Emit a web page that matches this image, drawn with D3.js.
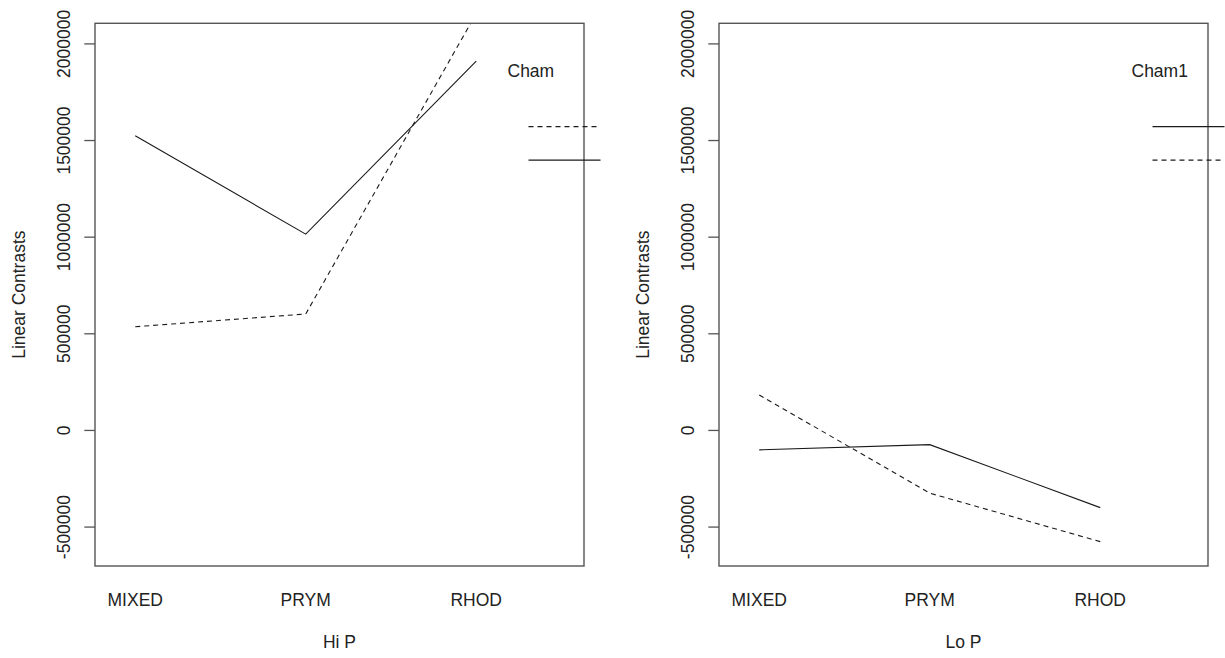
<!DOCTYPE html>
<html>
<head>
<meta charset="utf-8">
<script src="https://cdn.jsdelivr.net/npm/d3@7"></script>
<style>
  html, body { margin: 0; padding: 0; background: #fff; }
  svg { display: block; }
  text { font-family: "Liberation Sans", Arial, sans-serif; fill: #222; }
</style>
</head>
<body>
<svg id="chart" width="1225" height="658"></svg>
<script>
// Interaction plots of linear contrasts, one panel per P level.
const categories = ["MIXED", "PRYM", "RHOD"];
const yTicks = [-500000, 0, 500000, 1000000, 1500000, 2000000];
const yLimits = [-600000, 2000000];

// Trace series (line types follow R's interaction.plot: first level dashed, second solid)
const hiP_dashed = [534000, 600000, 2155000];
const hiP_solid  = [1522000, 1013000, 1908000];
const loP_dashed = [181000, -327000, -578000];
const loP_solid  = [-103000, -76000, -402000];

const panelTitles = ["Hi P", "Lo P"];
const traceTitles = ["Cham", "Cham1"];
const yTitle = "Linear Contrasts";

const panels = [
  { xTitle: panelTitles[0], legendTitle: traceTitles[0], left: 95,
    series: [{ values: hiP_dashed, dash: "5,4" }, { values: hiP_solid, dash: null }] },
  { xTitle: panelTitles[1], legendTitle: traceTitles[1], left: 719,
    series: [{ values: loP_dashed, dash: "5,4" }, { values: loP_solid, dash: null }] }
];

const svg = d3.select("#chart");
const boxW = 489, boxTop = 23.3, boxBottom = 566;
const fontSize = 17.5;

// y range padded by 4% the way R does
const ySpan = yLimits[1] - yLimits[0];
const y = d3.scaleLinear()
  .domain([yLimits[0] - 0.04 * ySpan, yLimits[1] + 0.04 * ySpan])
  .range([boxBottom, boxTop]);

// plain integer labels with an ASCII hyphen for negatives
const fmt = d => String(d);

panels.forEach((p, i) => {
  const g = svg.append("g");
  const x = d3.scaleLinear().domain([0.764, 3.632]).range([p.left, p.left + boxW]);

  const clipId = "clip" + i;
  svg.append("clipPath").attr("id", clipId)
    .append("rect").attr("x", p.left).attr("y", boxTop)
    .attr("width", boxW).attr("height", boxBottom - boxTop);

  // trace lines
  const line = d3.line().x((d, k) => x(k + 1)).y(d => y(d));
  g.append("g").attr("clip-path", `url(#${clipId})`)
    .selectAll("path").data(p.series).join("path")
    .attr("d", s => line(s.values))
    .attr("fill", "none")
    .attr("stroke", "#1a1a1a")
    .attr("stroke-width", 1.1)
    .attr("stroke-dasharray", s => s.dash);

  // plot box
  g.append("rect")
    .attr("x", p.left).attr("y", boxTop)
    .attr("width", boxW).attr("height", boxBottom - boxTop)
    .attr("fill", "none").attr("stroke", "#555").attr("stroke-width", 1.4);

  // y axis ticks and rotated labels
  const yAxis = d3.axisLeft(y).tickValues(yTicks).tickSize(10.7).tickFormat(fmt);
  const ya = g.append("g").attr("transform", `translate(${p.left},0)`).call(yAxis);
  ya.select(".domain").remove();
  ya.selectAll(".tick line").attr("stroke", "#555").attr("stroke-width", 1.3);
  ya.selectAll(".tick text").remove();
  ya.selectAll(".tick").append("text")
    .attr("transform", `translate(${-31.5},0) rotate(-90)`)
    .attr("text-anchor", "middle")
    .attr("dy", "0.35em")
    .style("font-size", fontSize + "px")
    .style("font-family", '"Liberation Sans", Arial, sans-serif')
    .attr("fill", "#222")
    .text(fmt);

  // category labels (no tick marks)
  g.selectAll(".cat").data(categories).join("text")
    .attr("class", "cat")
    .attr("x", (d, k) => x(k + 1))
    .attr("y", 605.5)
    .attr("text-anchor", "middle")
    .style("font-size", fontSize + "px")
    .text(d => d);

  // axis titles
  g.append("text")
    .attr("x", p.left + boxW / 2).attr("y", 648)
    .attr("text-anchor", "middle")
    .style("font-size", fontSize + "px")
    .text(p.xTitle);
  g.append("text")
    .attr("transform", `translate(${p.left - 76},${(boxTop + boxBottom) / 2}) rotate(-90)`)
    .attr("text-anchor", "middle")
    .attr("dy", "0.35em")
    .style("font-size", fontSize + "px")
    .text(yTitle);

  // legend: title and line samples, ordered by the value at the last category
  const lx = p.left + boxW - 55.5;
  g.append("text")
    .attr("x", lx - 21).attr("y", 77)
    .style("font-size", fontSize + "px")
    .text(p.legendTitle);
  const ordered = p.series.slice().sort((a, b) => b.values[2] - a.values[2]);
  g.selectAll(".leg").data(ordered).join("line")
    .attr("class", "leg")
    .attr("x1", lx).attr("x2", lx + 72)
    .attr("y1", (d, k) => 126.7 + k * 33.5)
    .attr("y2", (d, k) => 126.7 + k * 33.5)
    .attr("stroke", "#1a1a1a").attr("stroke-width", 1.3)
    .attr("stroke-dasharray", d => d.dash);
});
</script>
</body>
</html>
